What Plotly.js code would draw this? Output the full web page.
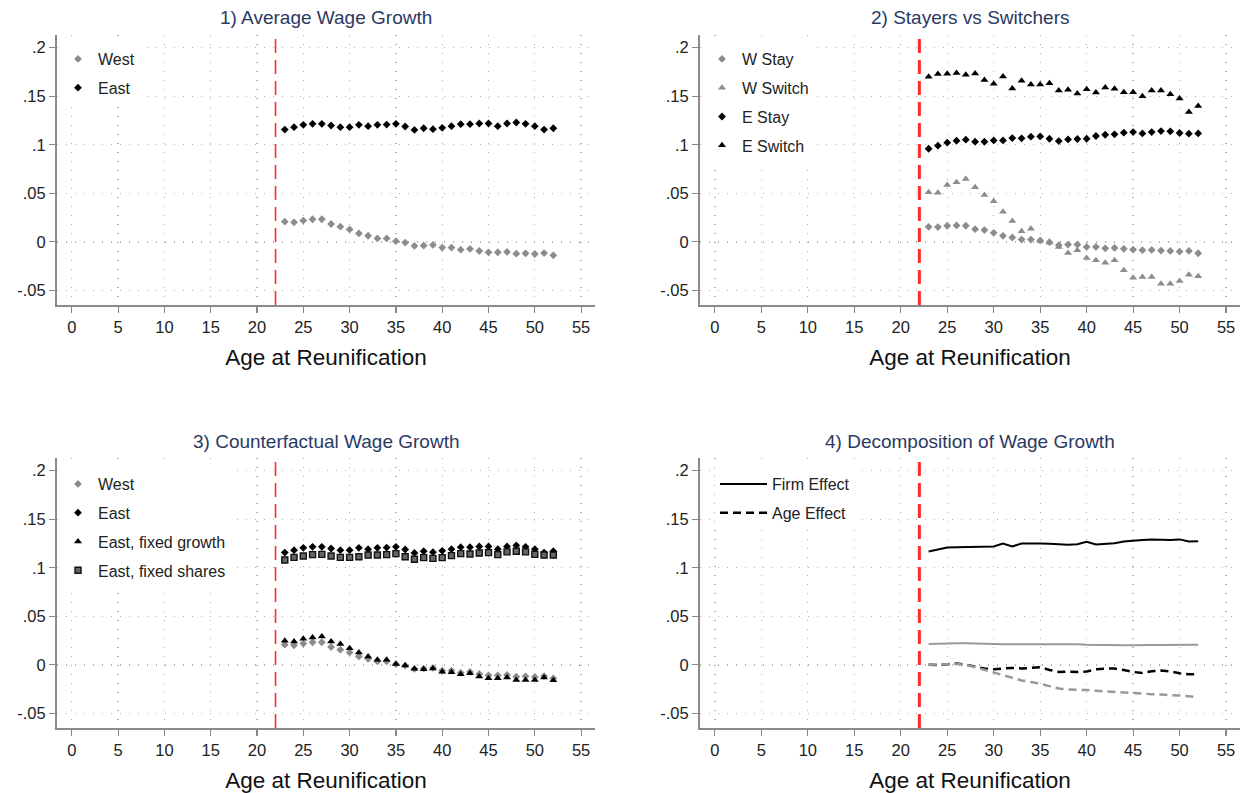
<!DOCTYPE html>
<html>
<head>
<meta charset="utf-8">
<script src="https://cdn.plot.ly/plotly-3.0.1.min.js"></script>
<style>html,body{margin:0;padding:0;background:#fff;} #chart{width:1244px;height:793px;}</style>
</head>
<body>
<div id="chart"></div>
<script>
// ---------- DATA ----------
const ages = [23,24,25,26,27,28,29,30,31,32,33,34,35,36,37,38,39,40,41,42,43,44,45,46,47,48,49,50,51,52];
const reunificationAge = 22;

// Panel 1 / 3
const westAvg = [0.0208,0.0201,0.0219,0.0233,0.0233,0.0184,0.0156,0.0128,0.0087,0.0063,0.0035,0.0035,0.0007,-0.0007,-0.0042,-0.0038,-0.0031,-0.0059,-0.0059,-0.0080,-0.0073,-0.0094,-0.0108,-0.0108,-0.0104,-0.0122,-0.0118,-0.0125,-0.0115,-0.0139];
const eastAvg = [0.1156,0.1181,0.1205,0.1215,0.1215,0.1198,0.1181,0.1181,0.1205,0.1191,0.1205,0.1208,0.1215,0.1188,0.1153,0.1170,0.1160,0.1174,0.1191,0.1212,0.1212,0.1219,0.1219,0.1191,0.1219,0.1229,0.1215,0.1191,0.1156,0.1170];

// Panel 2
const wStay = [0.0155,0.0152,0.0166,0.0169,0.0166,0.0131,0.0121,0.0093,0.0062,0.0045,0.0024,0.0024,0.0014,-0.0003,-0.0034,-0.0028,-0.0028,-0.0052,-0.0052,-0.0066,-0.0062,-0.0072,-0.0079,-0.0086,-0.0083,-0.0090,-0.0093,-0.0100,-0.0093,-0.0117];
const wSwitch = [0.0510,0.0507,0.0586,0.0614,0.0648,0.0562,0.0483,0.0417,0.0310,0.0214,0.0110,0.0134,0.0010,-0.0010,-0.0052,-0.0114,-0.0086,-0.0166,-0.0190,-0.0214,-0.0190,-0.0293,-0.0369,-0.0362,-0.0362,-0.0431,-0.0431,-0.0403,-0.0338,-0.0355];
const eStay = [0.0959,0.0990,0.1021,0.1041,0.1052,0.1031,0.1031,0.1045,0.1045,0.1069,0.1066,0.1083,0.1086,0.1062,0.1038,0.1055,0.1059,0.1062,0.1090,0.1103,0.1107,0.1124,0.1131,0.1117,0.1131,0.1141,0.1138,0.1121,0.1114,0.1117];
const eSwitch = [0.1700,0.1728,0.1731,0.1738,0.1721,0.1734,0.1666,0.1628,0.1703,0.1579,0.1659,0.1621,0.1621,0.1634,0.1559,0.1566,0.1528,0.1572,0.1538,0.1590,0.1576,0.1541,0.1541,0.1500,0.1559,0.1559,0.1521,0.1476,0.1338,0.1400];

// Panel 3
const eastFixedGrowth = [0.0248,0.0241,0.0269,0.0283,0.0293,0.0241,0.0214,0.0172,0.0128,0.0086,0.0052,0.0052,0.0010,-0.0007,-0.0041,-0.0045,-0.0038,-0.0072,-0.0076,-0.0097,-0.0086,-0.0121,-0.0138,-0.0138,-0.0131,-0.0155,-0.0155,-0.0155,-0.0131,-0.0159];
const eastFixedShares = [0.1080,0.1107,0.1121,0.1135,0.1138,0.1121,0.1107,0.1107,0.1114,0.1131,0.1131,0.1135,0.1145,0.1114,0.1087,0.1104,0.1097,0.1104,0.1125,0.1145,0.1142,0.1152,0.1156,0.1135,0.1163,0.1170,0.1163,0.1138,0.1131,0.1131];

// Panel 4
const eastFirm = [0.1167,0.1191,0.1208,0.1212,0.1215,0.1219,0.1219,0.1219,0.1250,0.1219,0.1250,0.1253,0.1250,0.1247,0.1243,0.1236,0.1243,0.1267,0.1240,0.1250,0.1253,0.1271,0.1281,0.1285,0.1292,0.1285,0.1285,0.1292,0.1271,0.1274];
const westFirm = [0.0215,0.0219,0.0222,0.0222,0.0222,0.0222,0.0219,0.0215,0.0212,0.0212,0.0215,0.0219,0.0219,0.0215,0.0212,0.0212,0.0212,0.0208,0.0205,0.0201,0.0201,0.0201,0.0201,0.0205,0.0205,0.0205,0.0208,0.0208,0.0208,0.0208];
const eastAge = [0.0000,-0.0003,0.0007,0.0014,0.0003,-0.0017,-0.0038,-0.0045,-0.0038,-0.0031,-0.0038,-0.0031,-0.0024,-0.0052,-0.0073,-0.0069,-0.0073,-0.0069,-0.0045,-0.0038,-0.0038,-0.0052,-0.0073,-0.0083,-0.0066,-0.0059,-0.0066,-0.0087,-0.0097,-0.0094];
const westAge = [0.0000,0.0000,0.0007,0.0010,0.0000,-0.0024,-0.0052,-0.0080,-0.0108,-0.0135,-0.0160,-0.0177,-0.0194,-0.0219,-0.0243,-0.0253,-0.0253,-0.0260,-0.0267,-0.0274,-0.0281,-0.0288,-0.0295,-0.0299,-0.0302,-0.0306,-0.0309,-0.0316,-0.0323,-0.0333];

const xTicks = [0,5,10,15,20,25,30,35,40,45,50,55];
const yTickVals = [-0.05,0,0.05,0.1,0.15,0.2];
const yTickText = ["-.05","0",".05",".1",".15",".2"];
const panelTitles = ["1) Average Wage Growth","2) Stayers vs Switchers","3) Counterfactual Wage Growth","4) Decomposition of Wage Growth"];
const xTitle = "Age at Reunification";

// ---------- STYLE ----------
const W = 1244, H = 793;
const GRAY = "#8c8c8c", BLACK = "#000000";
const FONT = "Liberation Sans, Arial, Helvetica, sans-serif";
const xDomL = [57/W, 595/W], xDomR = [700/W, 1240/W];
const yDomT = [1-305/H, 1-35/H], yDomB = [1-728/H, 1-458/H];
const xRange = [-1.6, 56.5], yRange = [-0.065, 0.213];
const DIA = 6, TRI = 7, SQ = 6;

function mk(x, y, xa, ya, name, symbol, color, size, legend, group) {
  return {type:"scatter", mode:"markers", x:x, y:y, xaxis:xa, yaxis:ya, name:name,
    legend:legend, legendgroup:group,
    marker:{symbol:symbol, color:color, size:size, line:{width:0}}};
}
function ln(x, y, xa, ya, name, color, dash, width, legend, group, show) {
  return {type:"scatter", mode:"lines", x:x, y:y, xaxis:xa, yaxis:ya, name:name,
    legend:legend, legendgroup:group, showlegend:show,
    line:{color:color, dash:dash, width:width}};
}

const traces = [
  mk(ages, westAvg, "x", "y", "West", "diamond", GRAY, DIA, "legend", "a1"),
  mk(ages, eastAvg, "x", "y", "East", "diamond", BLACK, DIA, "legend", "a2"),

  mk(ages, wStay, "x2", "y2", "W Stay", "diamond", GRAY, DIA, "legend2", "b1"),
  mk(ages, wSwitch, "x2", "y2", "W Switch", "triangle-up", GRAY, TRI, "legend2", "b2"),
  mk(ages, eStay, "x2", "y2", "E Stay", "diamond", BLACK, DIA, "legend2", "b3"),
  mk(ages, eSwitch, "x2", "y2", "E Switch", "triangle-up", BLACK, TRI, "legend2", "b4"),

  mk(ages, westAvg, "x3", "y3", "West", "diamond", GRAY, DIA, "legend3", "c1"),
  mk(ages, eastAvg, "x3", "y3", "East", "diamond", BLACK, DIA, "legend3", "c2"),
  mk(ages, eastFixedGrowth, "x3", "y3", "East, fixed growth", "triangle-up", BLACK, TRI, "legend3", "c3"),
  Object.assign(mk(ages, eastFixedShares, "x3", "y3", "East, fixed shares", "square", "#555", SQ, "legend3", "c4"),
    {marker:{symbol:"square", color:"#666", size:SQ, line:{color:"#111", width:1.4}}}),

  ln(ages, eastFirm, "x4", "y4", "Firm Effect", BLACK, "solid", 2, "legend4", "d1", true),
  ln(ages, eastAge, "x4", "y4", "Age Effect", BLACK, "8px,5px", 2.5, "legend4", "d2", true),
  ln(ages, westFirm, "x4", "y4", "West Firm", "#999999", "solid", 2, "legend4", "d3", false),
  ln(ages, westAge, "x4", "y4", "West Age", "#999999", "8px,5px", 2.5, "legend4", "d4", false)
];

function xAxis(domain, anchor) {
  return {domain:domain, anchor:anchor, range:xRange, tickvals:xTicks, ticks:"outside", ticklen:6,
    tickcolor:"#888", tickwidth:1.2, showline:true, linecolor:"#8a8a8a", linewidth:2,
    showgrid:true, gridcolor:"#b0b0b0", griddash:"1px,8px", gridwidth:1.3, zeroline:false,
    tickfont:{family:FONT, size:16.5, color:"#222"},
    title:{text:xTitle, font:{family:FONT, size:22.5, color:"#111"}, standoff:14}};
}
function yAxis(domain, anchor) {
  return {domain:domain, anchor:anchor, range:yRange, tickvals:yTickVals, ticktext:yTickText,
    ticks:"outside", ticklen:6, tickcolor:"#888", tickwidth:1.2, showline:true, linecolor:"#8a8a8a", linewidth:2,
    showgrid:true, gridcolor:"#b0b0b0", griddash:"1px,8px", gridwidth:1.3, zeroline:false,
    tickfont:{family:FONT, size:16.5, color:"#222"}};
}
function legendAt(xpx, ypx, iw) {
  return {x:xpx/W, y:1-ypx/H, xanchor:"left", yanchor:"top", bgcolor:"#ffffff",
    font:{family:FONT, size:16, color:"#222"}, traceorder:"grouped", tracegroupgap:5,
    itemwidth:iw || 30, borderwidth:0};
}

const titleX = [(xDomL[0]+xDomL[1])/2, (xDomR[0]+xDomR[1])/2];
const annotations = panelTitles.map((t,i) => ({
  text:t, xref:"paper", yref:"paper", x:titleX[i%2], y:i<2 ? 1-18/H : 1-441/H,
  xanchor:"center", yanchor:"middle", showarrow:false,
  font:{family:FONT, size:19, color:"#2b3a63"}
}));

const redW = [1.6, 3, 1.6, 3];
const shapes = ["x","x2","x3","x4"].map((xa,i) => ({
  type:"line", xref:xa, yref:(i===0?"y":"y"+(i+1))+" domain", x0:reunificationAge, x1:reunificationAge, y0:0, y1:1,
  line:{color:"#ff2a2a", width:redW[i], dash:"14px,7px"}
}));

const layout = {
  width:W, height:H, margin:{l:0,r:0,t:0,b:0}, paper_bgcolor:"#fff", plot_bgcolor:"#fff",
  showlegend:true, font:{family:FONT},
  xaxis:xAxis(xDomL,"y"), yaxis:yAxis(yDomT,"x"),
  xaxis2:xAxis(xDomR,"y2"), yaxis2:yAxis(yDomT,"x2"),
  xaxis3:xAxis(xDomL,"y3"), yaxis3:yAxis(yDomB,"x3"),
  xaxis4:xAxis(xDomR,"y4"), yaxis4:yAxis(yDomB,"x4"),
  legend:legendAt(58, 42), legend2:legendAt(702, 42), legend3:legendAt(58, 467), legend4:legendAt(715, 467, 47),
  annotations:annotations, shapes:shapes
};

Plotly.newPlot("chart", traces, layout, {displayModeBar:false, staticPlot:true});
</script>
</body>
</html>
